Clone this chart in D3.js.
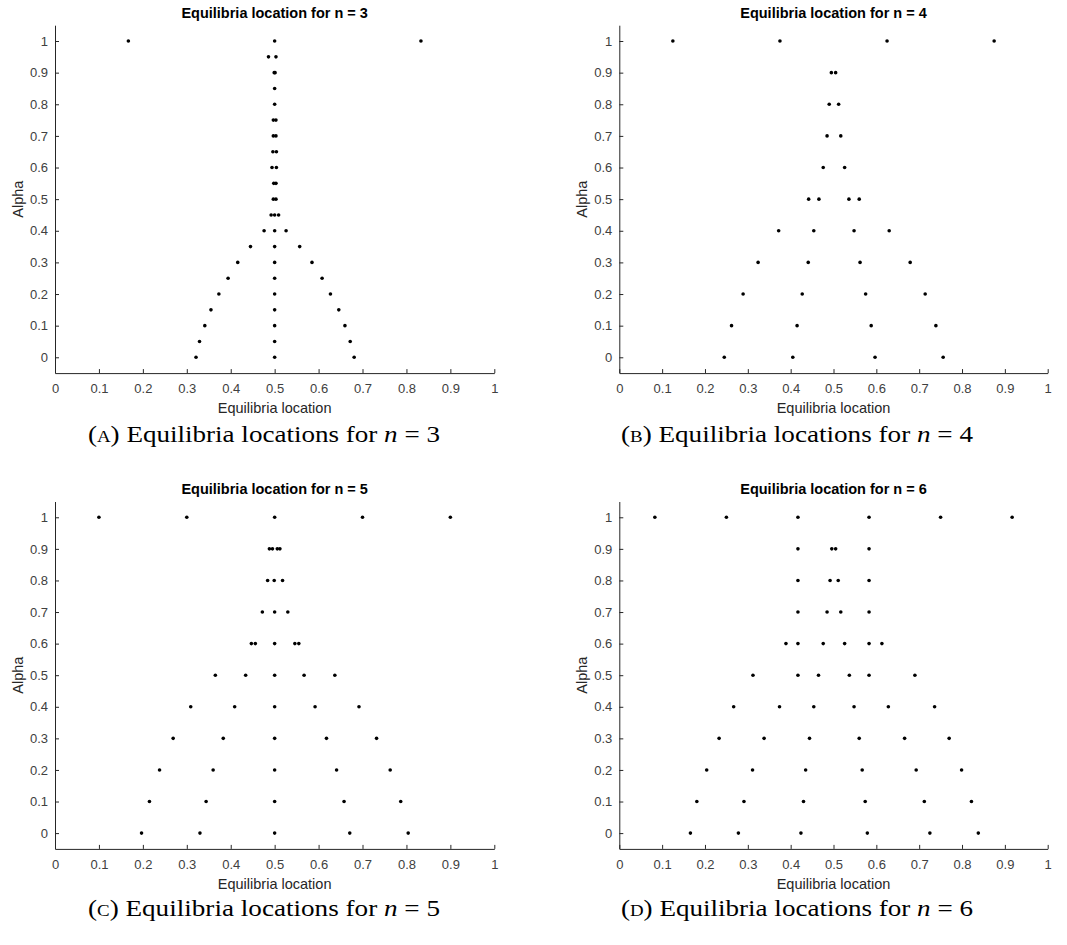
<!DOCTYPE html>
<html>
<head>
<meta charset="utf-8">
<script src="https://cdn.jsdelivr.net/npm/d3@7"></script>
<style>
  html, body { margin: 0; padding: 0; background: #fff; }
  svg { display: block; }
</style>
</head>
<body>
<svg id="chart" width="1067" height="945"></svg>
<script>
// ---------------- data ----------------
const xTicks = [0, 0.1, 0.2, 0.3, 0.4, 0.5, 0.6, 0.7, 0.8, 0.9, 1];
const yTicks = [0, 0.1, 0.2, 0.3, 0.4, 0.5, 0.6, 0.7, 0.8, 0.9, 1];
const xTickLabels = ["0", "0.1", "0.2", "0.3", "0.4", "0.5", "0.6", "0.7", "0.8", "0.9", "1"];
const yTickLabels = ["0", "0.1", "0.2", "0.3", "0.4", "0.5", "0.6", "0.7", "0.8", "0.9", "1"];

const alphasN3 = [1, 0.95, 0.9, 0.85, 0.8, 0.75, 0.7, 0.65, 0.6, 0.55, 0.5, 0.45, 0.4, 0.35, 0.3, 0.25, 0.2, 0.15, 0.1, 0.05, 0];
const eqN3 = [
  [0.167, 0.5, 0.833],
  [0.486, 0.503],
  [0.499, 0.501],
  [0.5],
  [0.5],
  [0.497, 0.503],
  [0.497, 0.503],
  [0.496, 0.504],
  [0.494, 0.504],
  [0.498, 0.503],
  [0.497, 0.503],
  [0.492, 0.5, 0.509],
  [0.476, 0.5, 0.526],
  [0.445, 0.5, 0.557],
  [0.416, 0.5, 0.585],
  [0.394, 0.5, 0.608],
  [0.373, 0.5, 0.627],
  [0.355, 0.5, 0.646],
  [0.341, 0.5, 0.660],
  [0.329, 0.5, 0.672],
  [0.321, 0.5, 0.681]
];

const alphasN4 = [1, 0.9, 0.8, 0.7, 0.6, 0.5, 0.4, 0.3, 0.2, 0.1, 0];
const eqN4 = [
  [0.125, 0.375, 0.625, 0.875],
  [0.495, 0.505],
  [0.490, 0.512],
  [0.485, 0.517],
  [0.476, 0.526],
  [0.442, 0.466, 0.536, 0.560],
  [0.372, 0.454, 0.548, 0.630],
  [0.324, 0.441, 0.562, 0.679],
  [0.289, 0.427, 0.575, 0.714],
  [0.262, 0.415, 0.588, 0.739],
  [0.245, 0.405, 0.597, 0.756]
];

const alphasN5 = [1, 0.9, 0.8, 0.7, 0.6, 0.5, 0.4, 0.3, 0.2, 0.1, 0];
const eqN5 = [
  [0.1, 0.3, 0.5, 0.7, 0.9],
  [0.488, 0.495, 0.506, 0.512],
  [0.484, 0.499, 0.518],
  [0.472, 0.5, 0.53],
  [0.447, 0.456, 0.5, 0.546, 0.555],
  [0.365, 0.434, 0.5, 0.567, 0.637],
  [0.309, 0.409, 0.5, 0.592, 0.692],
  [0.269, 0.383, 0.5, 0.618, 0.732],
  [0.238, 0.360, 0.5, 0.641, 0.763],
  [0.215, 0.344, 0.5, 0.658, 0.787],
  [0.197, 0.330, 0.5, 0.671, 0.804]
];

const alphasN6 = [1, 0.9, 0.8, 0.7, 0.6, 0.5, 0.4, 0.3, 0.2, 0.1, 0];
const eqN6 = [
  [0.083, 0.25, 0.417, 0.583, 0.75, 0.917],
  [0.417, 0.496, 0.505, 0.583],
  [0.417, 0.492, 0.511, 0.583],
  [0.417, 0.485, 0.517, 0.583],
  [0.389, 0.417, 0.476, 0.526, 0.583, 0.613],
  [0.312, 0.417, 0.465, 0.537, 0.583, 0.690],
  [0.267, 0.374, 0.454, 0.548, 0.628, 0.736],
  [0.233, 0.338, 0.444, 0.560, 0.666, 0.770],
  [0.204, 0.311, 0.435, 0.567, 0.693, 0.799],
  [0.181, 0.291, 0.430, 0.574, 0.712, 0.822],
  [0.166, 0.278, 0.424, 0.579, 0.725, 0.838]
];

const panelN = [3, 4, 5, 6];
const panelLetters = ["A", "B", "C", "D"];
const panelAlphas = [alphasN3, alphasN4, alphasN5, alphasN6];
const panelEq = [eqN3, eqN4, eqN5, eqN6];

// ---------------- layout ----------------
const panels = [
  { x0: 55,    x1: 494.3,  top: 25.2,  bottom: 373.1, capX: 264, capY: 442 },
  { x0: 619.3, x1: 1047.7, top: 25.2,  bottom: 373.1, capX: 797, capY: 442 },
  { x0: 55,    x1: 494.3,  top: 501.5, bottom: 848.9, capX: 264, capY: 916 },
  { x0: 619.3, x1: 1047.7, top: 501.5, bottom: 848.9, capX: 797, capY: 916 }
];

const svg = d3.select("#chart");
const axisColor = "#262626";
const sans = "'Liberation Sans', Arial, Helvetica, sans-serif";

panels.forEach((p, i) => {
  const n = panelN[i];
  const x = d3.scaleLinear().domain([0, 1]).range([p.x0, p.x1]);
  const y = d3.scaleLinear().domain([-0.05, 1.05]).range([p.bottom, p.top]);
  const g = svg.append("g");

  // x axis (ticks pointing inward)
  const xa = g.append("g")
    .attr("transform", `translate(0,${p.bottom})`)
    .call(d3.axisBottom(x).tickValues(xTicks)
      .tickFormat((d, k) => xTickLabels[k])
      .tickSizeInner(-4).tickSizeOuter(0).tickPadding(11));
  xa.select(".domain").attr("stroke", axisColor).attr("stroke-width", 1);
  xa.selectAll(".tick line").attr("stroke", axisColor);
  xa.selectAll(".tick text").attr("fill", "#404040")
    .style("font-family", sans).style("font-size", "13px");

  // y axis
  const ya = g.append("g")
    .attr("transform", `translate(${p.x0},0)`)
    .call(d3.axisLeft(y).tickValues(yTicks)
      .tickFormat((d, k) => yTickLabels[k])
      .tickSizeInner(-4).tickSizeOuter(0).tickPadding(7));
  ya.select(".domain").attr("stroke", axisColor).attr("stroke-width", 1);
  ya.selectAll(".tick line").attr("stroke", axisColor);
  ya.selectAll(".tick text").attr("fill", "#404040")
    .style("font-family", sans).style("font-size", "13px");

  // points
  const pts = [];
  panelAlphas[i].forEach((a, r) => {
    panelEq[i][r].forEach(v => pts.push({ a, v }));
  });
  g.append("g").selectAll("circle").data(pts).join("circle")
    .attr("cx", d => x(d.v))
    .attr("cy", d => y(d.a))
    .attr("r", 1.8)
    .attr("fill", "#000");

  const cx = (p.x0 + p.x1) / 2;
  // title
  g.append("text")
    .attr("x", cx).attr("y", p.top - 7.5)
    .attr("text-anchor", "middle")
    .style("font-family", sans).style("font-size", "14.5px").style("font-weight", "bold")
    .attr("fill", "#000")
    .text(`Equilibria location for n = ${n}`);

  // x label
  g.append("text")
    .attr("x", cx).attr("y", p.bottom + 40)
    .attr("text-anchor", "middle")
    .style("font-family", sans).style("font-size", "14.5px")
    .attr("fill", "#262626")
    .text("Equilibria location");

  // y label
  g.append("text")
    .attr("transform", `translate(${p.x0 - 32},${y(0.5)}) rotate(-90)`)
    .attr("text-anchor", "middle")
    .style("font-family", sans).style("font-size", "14.5px")
    .attr("fill", "#262626")
    .text("Alpha");

  // caption
  const cap = g.append("text")
    .attr("x", p.capX).attr("y", p.capY)
    .attr("text-anchor", "middle")
    .attr("textLength", 352)
    .attr("lengthAdjust", "spacingAndGlyphs")
    .style("font-family", "'Liberation Serif', 'Times New Roman', serif")
    .style("font-size", "23px")
    .attr("fill", "#000");
  cap.append("tspan").text("(");
  cap.append("tspan").style("font-size", "16px").text(panelLetters[i]);
  cap.append("tspan").text(") Equilibria locations for ");
  cap.append("tspan").style("font-style", "italic").text("n");
  cap.append("tspan").text(` = ${n}`);
});
</script>
</body>
</html>
